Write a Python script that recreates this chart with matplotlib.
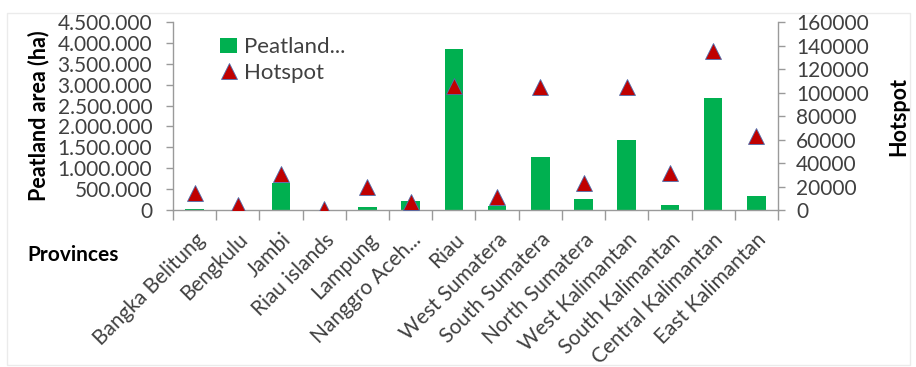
import numpy as np
import matplotlib.pyplot as plt
from matplotlib.patches import Rectangle
from matplotlib.ticker import FuncFormatter, FixedLocator

plt.rcParams["font.family"] = ["Lato", "DejaVu Sans"]

provinces = ["Bangka Belitung", "Bengkulu", "Jambi", "Riau islands", "Lampung",
             "Nanggro Aceh...", "Riau", "West Sumatera", "South Sumatera",
             "North Sumatera", "West Kalimantan", "South Kalimantan",
             "Central Kalimantan", "East Kalimantan"]
peatland_ha = [30000, 8000, 640000, 8000, 65000, 215000, 3860000, 100000,
               1280000, 265000, 1680000, 110000, 2670000, 335000]
hotspots = [14200, 4300, 30700, 1200, 19400, 6600, 105700, 11400,
            104600, 22700, 104600, 31200, 135000, 63100]

GREEN = "#00B050"
RED = "#C00000"
AXIS = "#9A9A9A"
TEXT = "#404040"

fig = plt.figure(figsize=(9.16, 3.67), dpi=100)
ax = fig.add_axes([0.1889, 0.4278, 0.6604, 0.5122])
ax2 = ax.twinx()

# thin chart-area frame
fig.patches.append(Rectangle((7 / 916, 2 / 367), 903 / 916, 352 / 367,
                             transform=fig.transFigure, fill=False,
                             edgecolor="#EBEBEB", linewidth=1))

x = np.arange(len(provinces))
bars = ax.bar(x, peatland_ha, width=0.43, color=GREEN, label="Peatland...", zorder=2)
pts, = ax2.plot(x, hotspots, linestyle="none", marker="^", markersize=12,
                markerfacecolor=RED, markeredgecolor="#4F6FB0", markeredgewidth=0.6,
                label="Hotspot", zorder=3)

ax.set_xlim(-0.5, len(provinces) - 0.5)
ax.set_ylim(0, 4500000)
ax2.set_ylim(0, 160000)
ax.set_yticks(np.arange(0, 4500001, 500000))
ax2.set_yticks(np.arange(0, 160001, 20000))
ax.yaxis.set_major_formatter(FuncFormatter(lambda v, _: f"{int(v):,}".replace(",", ".")))

# category labels at bar centres, tick marks between categories
ax.set_xticks(x)
ax.set_xticklabels(provinces, rotation=45, ha="right", va="top",
                   rotation_mode="anchor", fontsize=15, color=TEXT)
ax.tick_params(axis="x", which="major", length=0, pad=14)
ax.xaxis.set_minor_locator(FixedLocator(np.arange(-0.5, len(provinces), 1.0)))
ax.tick_params(axis="x", which="minor", length=7, color=AXIS, width=1)

ax.tick_params(axis="y", labelsize=15, colors=AXIS, length=5, width=1, pad=10)
ax2.tick_params(axis="y", labelsize=15, colors=AXIS, length=5, width=1, pad=8)
for lbl in ax.get_yticklabels() + ax2.get_yticklabels():
    lbl.set_color(TEXT)

for a in (ax, ax2):
    a.spines["top"].set_visible(False)
    for s in ("left", "right", "bottom"):
        a.spines[s].set_color(AXIS)
        a.spines[s].set_linewidth(1)
ax.spines["right"].set_visible(False)
ax2.spines["left"].set_visible(False)
ax2.spines["bottom"].set_visible(False)

ax.set_ylabel("Peatland area (ha)", fontsize=15.5, fontweight="bold", labelpad=6)
ax2.set_ylabel("Hotspot", fontsize=15.5, fontweight="bold", rotation=90, labelpad=14)
fig.text(0.03, 0.305, "Provinces", fontsize=15, fontweight="bold", va="center")

ax.legend([bars, pts], ["Peatland...", "Hotspot"], loc="upper left",
          bbox_to_anchor=(0.055, 0.99), frameon=False, fontsize=16,
          handlelength=0.8, handletextpad=0.3, labelspacing=0.25,
          labelcolor=TEXT, borderaxespad=0.2)

fig.savefig("out.png", dpi=100)
